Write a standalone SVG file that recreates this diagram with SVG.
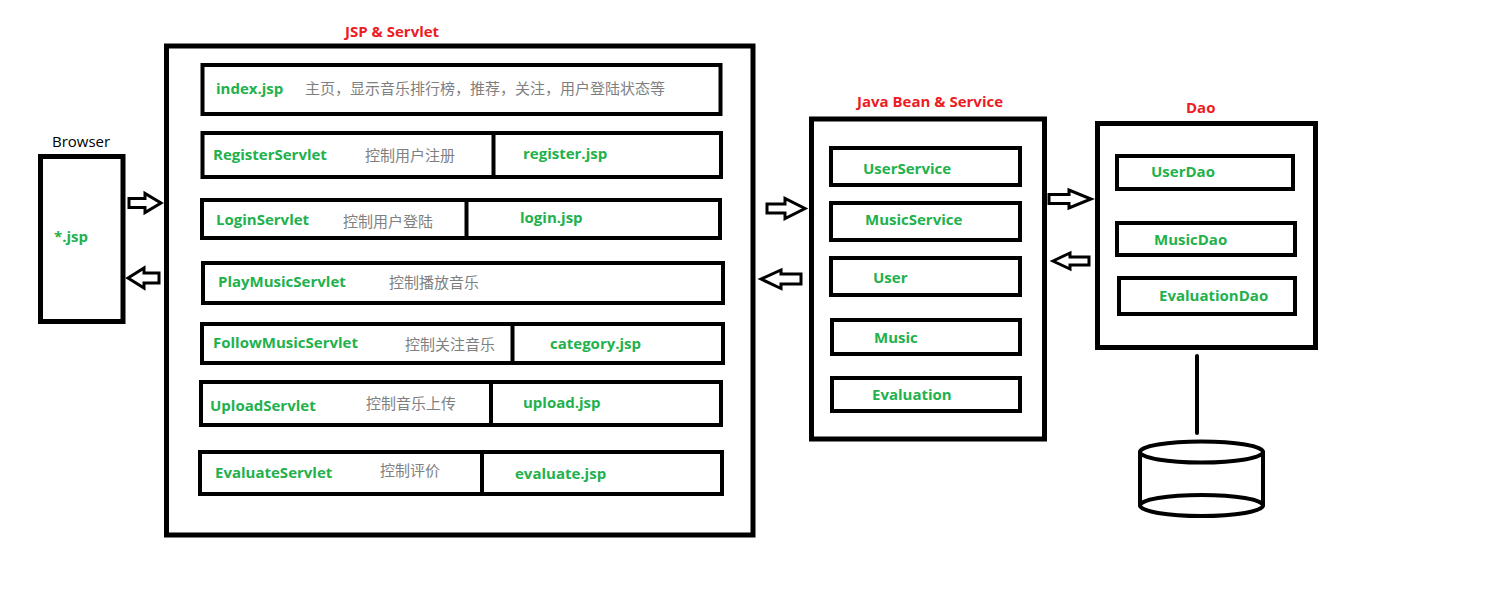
<svg xmlns="http://www.w3.org/2000/svg" width="1494" height="612" viewBox="0 0 1494 612">
<style>
.outer{fill:#fff;stroke:#000;stroke-width:5}
.box{fill:none;stroke:#000;stroke-width:4}
.div{stroke:#000;stroke-width:4}
.g{font-family:"Open Sans","Liberation Sans",sans-serif;font-weight:700;font-size:15px;fill:#22b14c}
.c{font-family:"Noto Sans CJK SC",sans-serif;font-size:15px;fill:#7f7f7f}
.t{font-family:"Open Sans","Liberation Sans",sans-serif;font-weight:700;font-size:15px;fill:#ed1c24}
.k{font-family:"Open Sans","Liberation Sans",sans-serif;font-size:15px;fill:#000}
.arr{fill:#fff;stroke:#000;stroke-width:3;stroke-linejoin:miter}
.ln{stroke:#000;stroke-width:4;stroke-linecap:round;fill:none}
</style>
<rect width="1494" height="612" fill="#fff"/>

<g id="browser">
<text class="k" x="52" y="147">Browser</text>
<rect class="outer" x="40.5" y="156.5" width="82.5" height="165" stroke-width="4.5"/>
<text class="g" x="54" y="242">*.jsp</text>
</g>

<g id="jsp-servlet">
<text class="t" x="345" y="37">JSP &amp; Servlet</text>
<rect class="outer" x="166.5" y="46" width="586.5" height="489"/>
</g>

<g id="index-jsp">
<rect class="box" x="202.5" y="65" width="518" height="49"/>
<text class="g" x="216" y="94">index.jsp</text>
<text class="c" x="305" y="94">主页，显示音乐排行榜，推荐，关注，用户登陆状态等</text>
</g>

<g id="register">
<rect class="box" x="202.5" y="133" width="518.5" height="44"/>
<line class="div" x1="493.5" y1="133" x2="493.5" y2="177"/>
<text class="g" x="213" y="160">RegisterServlet</text>
<text class="c" x="365" y="161">控制用户注册</text>
<text class="g" x="523" y="159">register.jsp</text>
</g>

<g id="login">
<rect class="box" x="202" y="200" width="518" height="38"/>
<line class="div" x1="466.5" y1="200" x2="466.5" y2="238"/>
<text class="g" x="216" y="225">LoginServlet</text>
<text class="c" x="343" y="227">控制用户登陆</text>
<text class="g" x="520" y="223">login.jsp</text>
</g>

<g id="playmusic">
<rect class="box" x="203" y="263" width="520" height="40"/>
<text class="g" x="218" y="287">PlayMusicServlet</text>
<text class="c" x="389" y="288">控制播放音乐</text>
</g>

<g id="followmusic">
<rect class="box" x="202" y="324" width="521" height="39"/>
<line class="div" x1="512.5" y1="324" x2="512.5" y2="363"/>
<text class="g" x="213" y="348">FollowMusicServlet</text>
<text class="c" x="405" y="350">控制关注音乐</text>
<text class="g" x="550" y="349">category.jsp</text>
</g>

<g id="upload">
<rect class="box" x="201" y="382" width="520" height="43"/>
<line class="div" x1="491" y1="382" x2="491" y2="425"/>
<text class="g" x="210" y="411">UploadServlet</text>
<text class="c" x="366" y="409">控制音乐上传</text>
<text class="g" x="523" y="408">upload.jsp</text>
</g>

<g id="evaluate">
<rect class="box" x="200" y="452" width="522" height="42"/>
<line class="div" x1="482" y1="452" x2="482" y2="494"/>
<text class="g" x="215" y="478">EvaluateServlet</text>
<text class="c" x="380" y="476">控制评价</text>
<text class="g" x="515" y="479">evaluate.jsp</text>
</g>

<g id="bean-service">
<text class="t" x="857" y="107">Java Bean &amp; Service</text>
<rect class="outer" x="811.5" y="119" width="233" height="320"/>
</g>
<g id="userservice">
<rect class="box" x="831" y="148" width="189" height="37"/>
<text class="g" x="863" y="174">UserService</text>
</g>
<g id="musicservice">
<rect class="box" x="831" y="203" width="189" height="37"/>
<text class="g" x="865" y="225">MusicService</text>
</g>
<g id="user">
<rect class="box" x="831" y="258" width="189" height="37"/>
<text class="g" x="873" y="283">User</text>
</g>
<g id="music">
<rect class="box" x="832" y="320" width="188" height="34"/>
<text class="g" x="874" y="343">Music</text>
</g>
<g id="evaluation">
<rect class="box" x="832" y="378" width="188" height="33"/>
<text class="g" x="872" y="400">Evaluation</text>
</g>

<g id="dao">
<text class="t" x="1186" y="113">Dao</text>
<rect class="outer" x="1097.5" y="123.5" width="218" height="224"/>
</g>
<g id="userdao">
<rect class="box" x="1117" y="156" width="176" height="33"/>
<text class="g" x="1151" y="177">UserDao</text>
</g>
<g id="musicdao">
<rect class="box" x="1117" y="223" width="178" height="32"/>
<text class="g" x="1154" y="245">MusicDao</text>
</g>
<g id="evaluationdao">
<rect class="box" x="1119" y="278" width="176" height="36"/>
<text class="g" x="1159" y="301">EvaluationDao</text>
</g>

<g id="database">
<path class="ln" d="M1140,452 V505.5 M1263,452 V505.5"/>
<ellipse class="ln" cx="1201.5" cy="452" rx="61.5" ry="10.5" fill="#fff"/>
<ellipse class="ln" cx="1201.5" cy="505.5" rx="61.5" ry="10.5"/>
</g>

<g id="connectors">
<polygon class="arr" points="129,198.5 145,198.5 145,193.5 161,203 145,212.5 145,207.5 129,207.5"/>
<polygon class="arr" points="128,278 144,268 144,273 159,273 159,283 144,283 144,288"/>
<polygon class="arr" points="767,204 785,204 785,198.5 805,208.5 785,218.5 785,213 767,213"/>
<polygon class="arr" points="761,279 781,270 781,274 801,274 801,284 781,284 781,288.5"/>
<polygon class="arr" points="1049,194.5 1069,194.5 1069,190 1091,199 1069,208 1069,203.5 1049,203.5"/>
<polygon class="arr" points="1053,261 1070,253 1070,257 1089,257 1089,265 1070,265 1070,269"/>
<line class="ln" x1="1197" y1="356" x2="1197" y2="433"/>
</g>
</svg>
